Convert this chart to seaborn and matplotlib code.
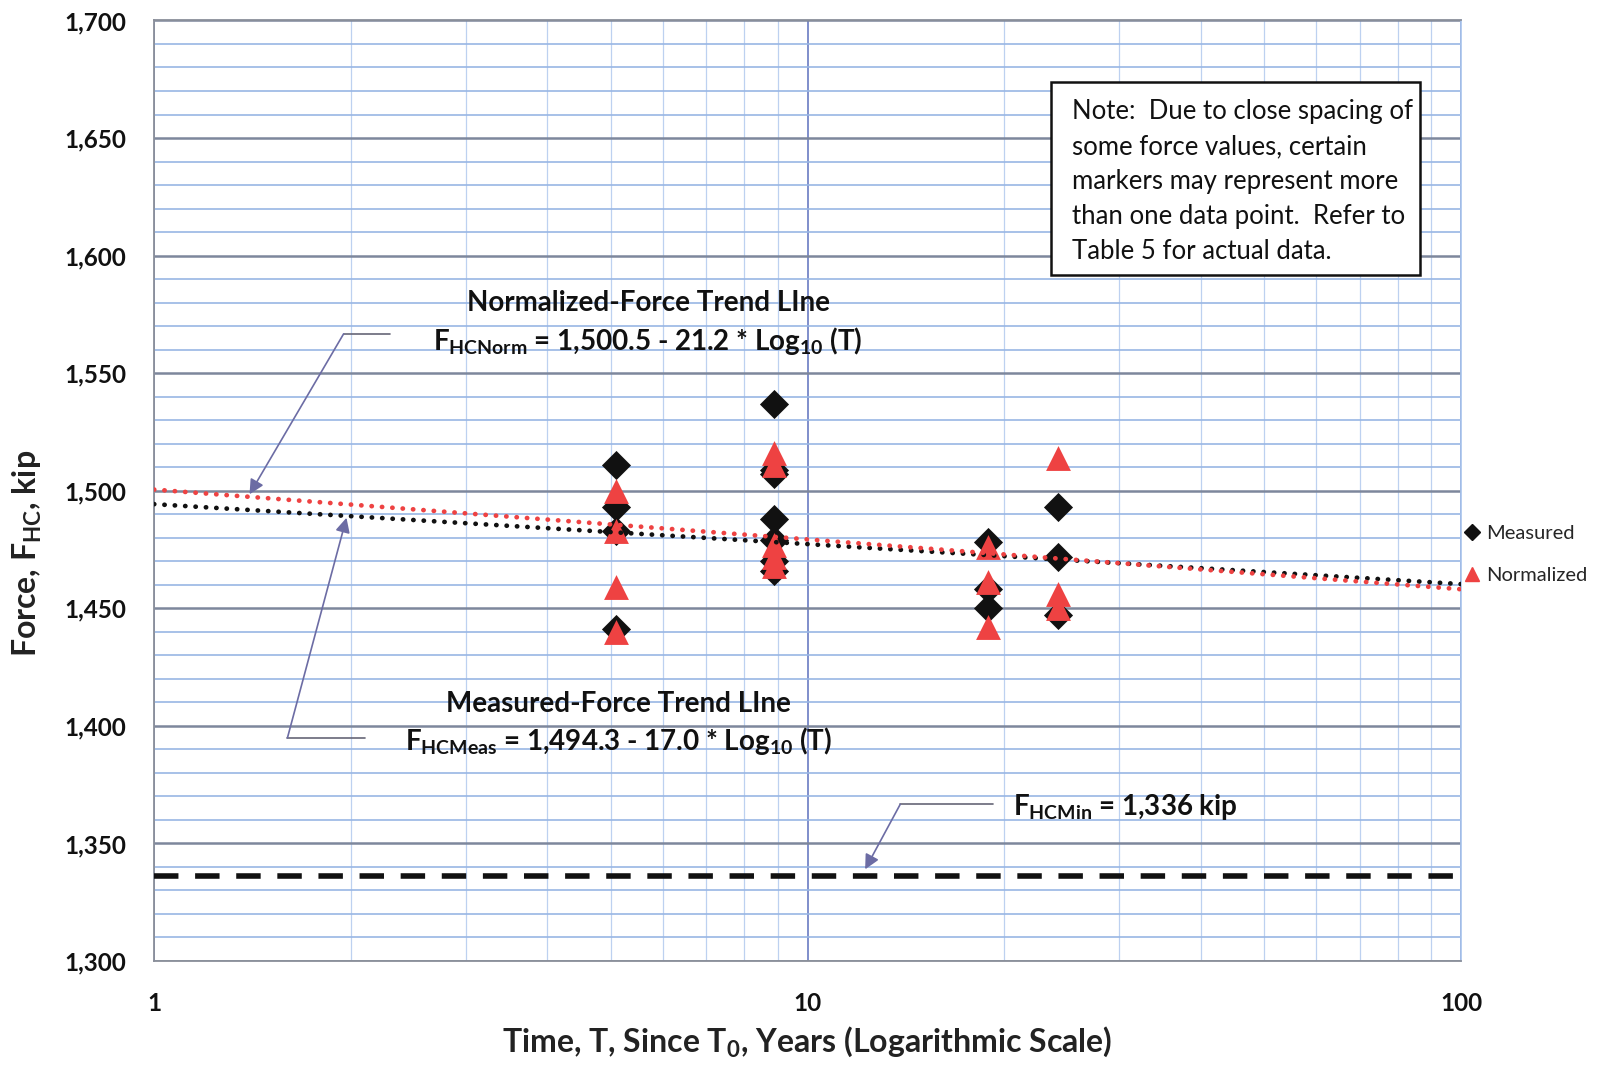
import numpy as np
import pandas as pd
import matplotlib
matplotlib.use("Agg")
import matplotlib.pyplot as plt
from matplotlib.patches import Rectangle
from matplotlib.lines import Line2D
from matplotlib.ticker import FixedLocator, NullFormatter, FixedFormatter
import seaborn as sns

# ---- data -------------------------------------------------------------
meas_T = [5.1, 5.1, 5.1, 5.1,
          8.9, 8.9, 8.9, 8.9, 8.9, 8.9, 8.9,
          18.9, 18.9, 18.9,
          24.2, 24.2, 24.2]
meas_F = [1511, 1493, 1483, 1441,
          1537, 1509, 1507, 1488, 1479, 1470, 1466,
          1478, 1458, 1450,
          1493, 1472, 1447]

norm_T = [5.1, 5.1, 5.1, 5.1,
          8.9, 8.9, 8.9, 8.9, 8.9,
          18.9, 18.9, 18.9,
          24.2, 24.2, 24.2]
norm_F = [1500, 1483, 1459, 1440,
          1516, 1511, 1477, 1472, 1468,
          1476, 1461, 1442,
          1514, 1456, 1450]

# trend-line coefficients: F = a - b * log10(T)
norm_a, norm_b = 1500.5, 21.2
meas_a, meas_b = 1494.3, 17.0
F_MIN = 1336

x_ticks = [1, 10, 100]
x_tick_labels = ["1", "10", "100"]
y_ticks = list(range(1300, 1701, 50))
y_tick_labels = [f"{v:,}" for v in y_ticks]

# ---- style ------------------------------------------------------------
sns.set_theme(style="white")
plt.rcParams["font.family"] = ["Lato", "DejaVu Sans"]
plt.rcParams["mathtext.fontset"] = "custom"
plt.rcParams["mathtext.rm"] = "Lato:bold"
plt.rcParams["mathtext.bf"] = "Lato:bold"
plt.rcParams["mathtext.it"] = "Lato:bold"

BLACK = "#111111"
RED = "#EE4242"
ARROW = "#6c6ca4"

fig = plt.figure(figsize=(16.08, 10.66), dpi=100)
ax = fig.add_axes([0.0958, 0.0985, 0.9086 - 0.0958, 0.9808 - 0.0985])

ax.set_xscale("log")
ax.set_xlim(1, 100)
ax.set_ylim(1300, 1700)

# grid
ax.xaxis.set_major_locator(FixedLocator(x_ticks))
ax.xaxis.set_major_formatter(FixedFormatter(x_tick_labels))
ax.xaxis.set_minor_locator(FixedLocator([m * d for d in (1, 10) for m in range(2, 10)]))
ax.xaxis.set_minor_formatter(NullFormatter())
ax.yaxis.set_major_locator(FixedLocator(y_ticks))
ax.yaxis.set_major_formatter(FixedFormatter(y_tick_labels))
ax.yaxis.set_minor_locator(FixedLocator(list(range(1300, 1701, 10))))

ax.grid(which="minor", axis="x", color="#bdd1f0", lw=0.9)
ax.grid(which="major", axis="x", color="#6a7cc2", lw=1.2)
ax.grid(which="minor", axis="y", color="#98b6e4", lw=1.2)
ax.grid(which="major", axis="y", color="#7d879c", lw=1.8)
ax.set_axisbelow(True)

for side in ("left", "top", "bottom"):
    ax.spines[side].set_color("#8a8f9a")
    ax.spines[side].set_linewidth(1.3)
ax.spines["right"].set_color("#a8c4ec")
ax.spines["right"].set_linewidth(1.2)

ax.tick_params(which="both", length=0)
ax.tick_params(axis="y", pad=20, labelsize=17.5)
ax.tick_params(axis="x", pad=22, labelsize=17.5)
for lab in ax.get_xticklabels() + ax.get_yticklabels():
    lab.set_fontweight("bold")
    lab.set_color(BLACK)

# ---- scatter points ---------------------------------------------------
meas_df = pd.DataFrame({"T": meas_T, "F": meas_F})
norm_df = pd.DataFrame({"T": norm_T, "F": norm_F})

sns.scatterplot(data=meas_df, x="T", y="F", color=BLACK, marker="D",
                s=220, linewidth=0, ax=ax, zorder=3, legend=False)
sns.scatterplot(data=norm_df, x="T", y="F", color=RED, marker="^",
                s=320, linewidth=0, ax=ax, zorder=3, legend=False)

# ---- trend lines ------------------------------------------------------
T_line = np.array([1.0, 100.0])
for a, b, col in ((meas_a, meas_b, BLACK), (norm_a, norm_b, RED)):
    trend = pd.DataFrame({"T": T_line, "F": a - b * np.log10(T_line)})
    sns.lineplot(data=trend, x="T", y="F", color=col, lw=3.4, ax=ax,
                 legend=False, zorder=4)
    line = ax.lines[-1]
    line.set_linestyle((0, (0.05, 2.15)))
    line.set_dash_capstyle("round")

# minimum force
ax.axhline(F_MIN, color=BLACK, lw=4.0, linestyle=(0, (4.4, 3.0)), zorder=4)

ax.set_xlabel(r"Time, T, Since T$_{\mathbf{0}}$, Years (Logarithmic Scale)",
              fontsize=23, fontweight="bold", color="#222222")
ax.set_ylabel(r"Force, F$_{\mathbf{HC}}$, kip", fontsize=23,
              fontweight="bold", color="#222222")
ax.xaxis.set_label_coords(0.5, -0.068)
ax.yaxis.set_label_coords(-0.084, 0.433)

# legend at right of plot area
handles = [
    Line2D([], [], marker="D", color=BLACK, linestyle="none", markersize=8),
    Line2D([], [], marker="^", color=RED, linestyle="none", markersize=10),
]
ax.legend(handles, ["Measured", "Normalized"], loc="center left",
          bbox_to_anchor=(1.0, 0.432), frameon=False, fontsize=14.5,
          handlelength=0.7, handletextpad=0.35, borderaxespad=0.2,
          borderpad=0.0, labelspacing=1.25)

# ---- annotations ------------------------------------------------------
ax.text(5.70, 1580, "Normalized-Force Trend LIne", ha="center", va="center",
        fontsize=20, fontweight="bold", color=BLACK, zorder=6)
ax.text(5.70, 1563.5, r"F$_{\mathbf{HCNorm}}$ = 1,500.5 - 21.2 * Log$_{\mathbf{10}}$ (T)",
        ha="center", va="center", fontsize=20, fontweight="bold", color=BLACK, zorder=6)

ax.text(5.13, 1409.5, "Measured-Force Trend LIne", ha="center", va="center",
        fontsize=20, fontweight="bold", color=BLACK, zorder=6)
ax.text(5.13, 1393.5, r"F$_{\mathbf{HCMeas}}$ = 1,494.3 - 17.0 * Log$_{\mathbf{10}}$ (T)",
        ha="center", va="center", fontsize=20, fontweight="bold", color=BLACK, zorder=6)

ax.text(20.6, 1365.5, r"F$_{\mathbf{HCMin}}$ = 1,336 kip", ha="left", va="center",
        fontsize=20, fontweight="bold", color=BLACK, zorder=6)

arrow_kw = dict(arrowstyle="-|>", color=ARROW, lw=1.2, mutation_scale=22,
                shrinkA=0, shrinkB=0)
# normalized leader
ax.plot([1.95, 2.30], [1566.7, 1566.7], color="#666677", lw=1.2, zorder=5)
ax.annotate("", xy=(1.40, 1498.5), xytext=(1.95, 1566.7), arrowprops=arrow_kw, zorder=5)
# measured leader
ax.plot([1.60, 2.10], [1394.9, 1394.9], color="#666677", lw=1.2, zorder=5)
ax.annotate("", xy=(1.97, 1488.5), xytext=(1.60, 1394.9), arrowprops=arrow_kw, zorder=5)
# minimum leader
ax.plot([13.86, 19.2], [1366.6, 1366.6], color="#666677", lw=1.2, zorder=5)
ax.annotate("", xy=(12.25, 1339.0), xytext=(13.86, 1366.6), arrowprops=arrow_kw, zorder=5)

# note box
ax.add_patch(Rectangle((0.686, 0.7294), 0.9686 - 0.686, 0.9346 - 0.7294,
                       transform=ax.transAxes, facecolor="white",
                       edgecolor=BLACK, lw=1.8, zorder=6))
note = ("Note:  Due to close spacing of\n"
        "some force values, certain\n"
        "markers may represent more\n"
        "than one data point.  Refer to\n"
        "Table 5 for actual data.")
ax.text(0.7024, 0.916, note, transform=ax.transAxes, ha="left", va="top",
        fontsize=18.5, color=BLACK, linespacing=1.5, zorder=7)

fig.savefig("out.png", dpi=100, facecolor="white")
